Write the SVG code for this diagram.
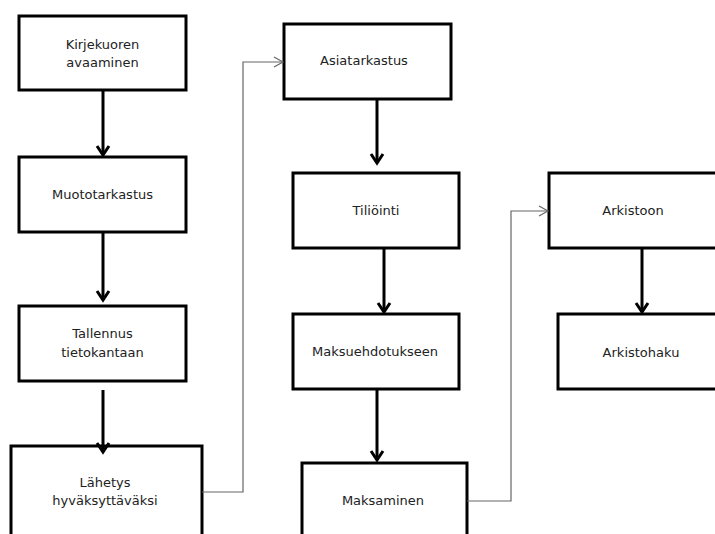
<svg xmlns="http://www.w3.org/2000/svg" width="715" height="534" viewBox="0 0 715 534">
<style>
.box{fill:#fff;stroke:#000;stroke-width:3}
.lbl{font-family:"DejaVu Sans",sans-serif;font-size:13px;fill:#222;text-anchor:middle}
.thick{fill:none;stroke:#000;stroke-width:3}
.thin{fill:none;stroke:#666;stroke-width:1.2}
</style>
<defs>
<marker id="ah" markerUnits="userSpaceOnUse" viewBox="0 0 14 14" refX="11" refY="7" markerWidth="14" markerHeight="14" orient="auto" overflow="visible">
<path d="M2,1 L11,7 L2,13" fill="none" stroke="#000" stroke-width="3"/>
</marker>
<marker id="at" markerUnits="userSpaceOnUse" viewBox="0 0 12 12" refX="10" refY="6" markerWidth="12" markerHeight="12" orient="auto" overflow="visible">
<path d="M1,1 L10,6 L1,11" fill="none" stroke="#666" stroke-width="1.2"/>
</marker>
</defs>
<rect width="715" height="534" fill="#fff"/>
<g id="n1"><rect class="box" x="19" y="16" width="167" height="74"/><text class="lbl" x="102.5" y="49">Kirjekuoren</text><text class="lbl" x="102.5" y="67">avaaminen</text></g>
<g id="n2"><rect class="box" x="19" y="157" width="167" height="75"/><text class="lbl" x="102.5" y="199">Muototarkastus</text></g>
<g id="n3"><rect class="box" x="19" y="306" width="167" height="75"/><text class="lbl" x="102.5" y="338">Tallennus</text><text class="lbl" x="102.5" y="357">tietokantaan</text></g>
<g id="n4"><rect class="box" x="11" y="446" width="191" height="100"/><text class="lbl" x="105" y="487">Lähetys</text><text class="lbl" x="105" y="505">hyväksyttäväksi</text></g>
<g id="n5"><rect class="box" x="284" y="24" width="167" height="75"/><text class="lbl" x="364" y="65">Asiatarkastus</text></g>
<g id="n6"><rect class="box" x="293" y="173" width="166" height="75"/><text class="lbl" x="376" y="215">Tiliöinti</text></g>
<g id="n7"><rect class="box" x="293" y="314" width="166" height="75"/><text class="lbl" x="375" y="356">Maksuehdotukseen</text></g>
<g id="n8"><rect class="box" x="302" y="463" width="165" height="90"/><text class="lbl" x="383" y="505">Maksaminen</text></g>
<g id="n9"><rect class="box" x="549" y="173" width="180" height="75"/><text class="lbl" x="633" y="215">Arkistoon</text></g>
<g id="n10"><rect class="box" x="558" y="314" width="170" height="75"/><text class="lbl" x="641" y="357">Arkistohaku</text></g>
<g id="connectors">
<line class="thick" x1="103" y1="90" x2="103" y2="155" marker-end="url(#ah)"/>
<line class="thick" x1="103" y1="232" x2="103" y2="300" marker-end="url(#ah)"/>
<line class="thick" x1="103" y1="390" x2="103" y2="452" marker-end="url(#ah)"/>
<line class="thick" x1="377" y1="99" x2="377" y2="163" marker-end="url(#ah)"/>
<line class="thick" x1="384" y1="248" x2="384" y2="312" marker-end="url(#ah)"/>
<line class="thick" x1="377" y1="389" x2="377" y2="460" marker-end="url(#ah)"/>
<line class="thick" x1="642" y1="248" x2="642" y2="312" marker-end="url(#ah)"/>
<path class="thin" d="M202,492 H243 V62 H283" marker-end="url(#at)"/>
<path class="thin" d="M467,501 H511 V211 H548" marker-end="url(#at)"/>
</g>
</svg>
